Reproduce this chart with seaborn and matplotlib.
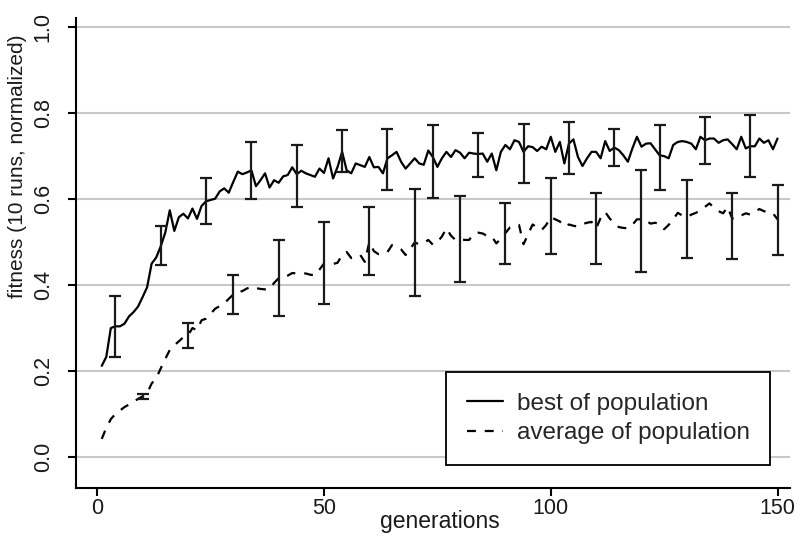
import numpy as np
import pandas as pd
import matplotlib
matplotlib.use("Agg")
import matplotlib.pyplot as plt
import seaborn as sns

# values, one per generation
generations = list(range(1, 151))
best = [0.212, 0.233, 0.300, 0.304, 0.304, 0.310, 0.327, 0.337, 0.350, 0.372,
        0.395, 0.450, 0.464, 0.490, 0.522, 0.574, 0.526, 0.558, 0.566, 0.555,
        0.578, 0.554, 0.584, 0.595, 0.598, 0.601, 0.618, 0.625, 0.615, 0.640,
        0.664, 0.658, 0.662, 0.667, 0.630, 0.644, 0.660, 0.627, 0.644, 0.638,
        0.653, 0.656, 0.674, 0.658, 0.666, 0.660, 0.656, 0.652, 0.671, 0.661,
        0.695, 0.648, 0.675, 0.710, 0.667, 0.660, 0.683, 0.679, 0.675, 0.698,
        0.674, 0.675, 0.660, 0.695, 0.702, 0.710, 0.687, 0.671, 0.683, 0.695,
        0.683, 0.680, 0.713, 0.698, 0.675, 0.695, 0.710, 0.698, 0.714, 0.708,
        0.695, 0.708, 0.706, 0.705, 0.706, 0.687, 0.706, 0.667, 0.710, 0.726,
        0.716, 0.737, 0.733, 0.710, 0.723, 0.721, 0.712, 0.722, 0.716, 0.745,
        0.710, 0.733, 0.683, 0.729, 0.739, 0.698, 0.677, 0.695, 0.710, 0.710,
        0.695, 0.735, 0.712, 0.720, 0.714, 0.702, 0.687, 0.718, 0.745, 0.722,
        0.729, 0.730, 0.716, 0.702, 0.700, 0.695, 0.726, 0.733, 0.735, 0.733,
        0.729, 0.716, 0.745, 0.737, 0.741, 0.741, 0.731, 0.737, 0.739, 0.728,
        0.716, 0.745, 0.718, 0.723, 0.723, 0.741, 0.731, 0.737, 0.716, 0.741]
average = [0.042, 0.068, 0.088, 0.100, 0.108, 0.116, 0.122, 0.129, 0.135, 0.141,
           0.148, 0.171, 0.183, 0.206, 0.228, 0.249, 0.260, 0.269, 0.279, 0.283,
           0.300, 0.295, 0.318, 0.322, 0.333, 0.345, 0.351, 0.357, 0.368, 0.378,
           0.384, 0.386, 0.392, 0.396, 0.393, 0.391, 0.390, 0.391, 0.405, 0.416,
           0.418, 0.422, 0.428, 0.427, 0.427, 0.427, 0.424, 0.423, 0.436, 0.450,
           0.450, 0.449, 0.452, 0.470, 0.477, 0.463, 0.466, 0.470, 0.454, 0.500,
           0.479, 0.472, 0.474, 0.477, 0.493, 0.488, 0.483, 0.470, 0.484, 0.499,
           0.495, 0.498, 0.505, 0.494, 0.500, 0.513, 0.532, 0.515, 0.505, 0.507,
           0.505, 0.505, 0.519, 0.522, 0.520, 0.514, 0.513, 0.497, 0.508, 0.521,
           0.534, 0.536, 0.540, 0.495, 0.518, 0.541, 0.534, 0.528, 0.540, 0.558,
           0.553, 0.548, 0.536, 0.541, 0.538, 0.536, 0.542, 0.545, 0.547, 0.532,
           0.556, 0.570, 0.555, 0.543, 0.535, 0.533, 0.532, 0.540, 0.553, 0.553,
           0.550, 0.543, 0.545, 0.542, 0.530, 0.540, 0.553, 0.568, 0.562, 0.558,
           0.564, 0.568, 0.574, 0.582, 0.590, 0.580, 0.572, 0.567, 0.582, 0.555,
           0.555, 0.562, 0.567, 0.564, 0.570, 0.577, 0.572, 0.568, 0.567, 0.553]

# error bars (low / high ends)
best_bar_gen = [4, 14, 24, 34, 44, 54, 64, 74, 84, 94, 104, 114, 124, 134, 144]
best_bar_lo = [0.233, 0.447, 0.542, 0.601, 0.581, 0.664, 0.622, 0.603, 0.652, 0.637,
               0.659, 0.678, 0.622, 0.681, 0.652]
best_bar_hi = [0.374, 0.538, 0.648, 0.732, 0.727, 0.760, 0.764, 0.773, 0.753, 0.774,
               0.779, 0.762, 0.773, 0.791, 0.795]
avg_bar_gen = [10, 20, 30, 40, 50, 60, 70, 80, 90, 100, 110, 120, 130, 140, 150]
avg_bar_lo = [0.135, 0.253, 0.332, 0.329, 0.355, 0.423, 0.375, 0.408, 0.450, 0.473,
              0.450, 0.430, 0.464, 0.460, 0.469]
avg_bar_hi = [0.146, 0.312, 0.424, 0.506, 0.546, 0.582, 0.623, 0.608, 0.591, 0.648,
              0.614, 0.667, 0.644, 0.614, 0.632]

sns.set_style("white")
plt.rcParams['font.family'] = ['Liberation Sans', 'DejaVu Sans']

df = pd.DataFrame({'generations': generations, 'best': best, 'average': average})

fig = plt.figure(figsize=(7.99, 5.35), dpi=100)
ax = fig.add_axes([0.095, 0.088, 0.894, 0.878])

sns.lineplot(data=df, x='generations', y='best', color='black', lw=1.6, ax=ax)
sns.lineplot(data=df, x='generations', y='average', color='black', lw=1.6, ax=ax,
             linestyle='--')
ax.lines[1].set_dashes((4, 4))

for g, lo, hi in [(best_bar_gen, best_bar_lo, best_bar_hi), (avg_bar_gen, avg_bar_lo, avg_bar_hi)]:
    lo = np.array(lo)
    hi = np.array(hi)
    ax.errorbar(g, (lo + hi) / 2, yerr=(hi - lo) / 2, fmt='none', ecolor='#1a1a1a',
                elinewidth=1.6, capsize=4, capthick=1.6)

ax.set_xlim(-4.7, 152.8)
ax.set_ylim(-0.072, 1.021)
ax.set_xticks([0, 50, 100, 150])
ax.set_yticks([0.0, 0.2, 0.4, 0.6, 0.8, 1.0])
ax.set_yticklabels(['0.0', '0.2', '0.4', '0.6', '0.8', '1.0'], rotation=90, va='center')
ax.yaxis.grid(True, color='#c8c8c8', lw=1.5)
ax.set_axisbelow(True)

for s in ['top', 'right']:
    ax.spines[s].set_visible(False)
for s in ['left', 'bottom']:
    ax.spines[s].set_color('black')
    ax.spines[s].set_linewidth(1.5)
ax.tick_params(axis='both', direction='out', length=6, width=1.5, color='black',
               labelsize=15.5, labelcolor='#1a1a1a', left=True, bottom=True)
ax.tick_params(axis='x', pad=1)
ax.tick_params(axis='y', pad=10)

ax.set_xlabel('generations', fontsize=16.5, color='#1a1a1a')
ax.set_ylabel('fitness (10 runs, normalized)', fontsize=15, color='#1a1a1a')
ax.xaxis.set_label_coords(0.51, -0.047)
ax.yaxis.set_label_coords(-0.068, 0.685)

leg = ax.legend(handles=[ax.lines[0], ax.lines[1]],
                labels=['best of population', 'average of population'],
                loc='lower right', bbox_to_anchor=(0.972, 0.049), fontsize=17.5,
                frameon=True, fancybox=False, edgecolor='black', framealpha=1,
                handlelength=1.5, handletextpad=0.55, borderpad=0.85,
                labelspacing=0.3, borderaxespad=0)
leg.get_frame().set_linewidth(1.3)

fig.savefig('out.png', dpi=100)
